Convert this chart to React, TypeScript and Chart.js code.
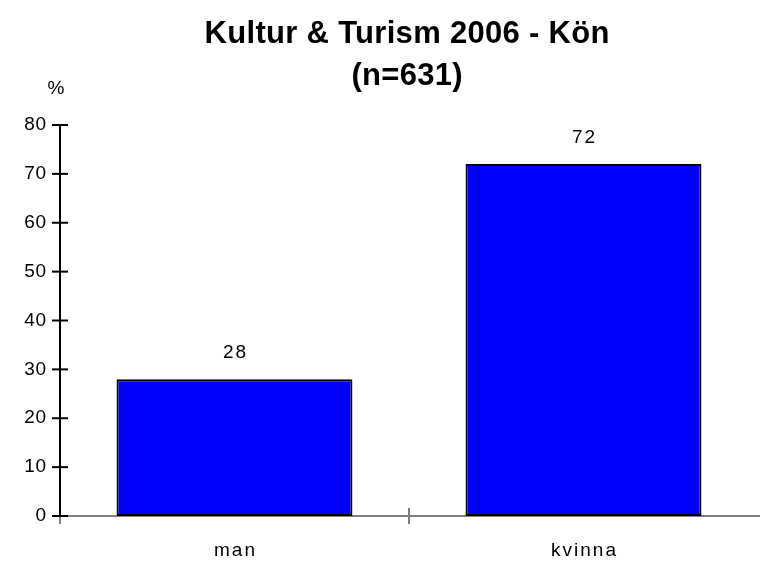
import React, { useEffect, useRef } from "react";
import { Chart, registerables } from "chart.js";

Chart.register(...registerables);

const categories = ["man", "kvinna"];
const values = [28, 72];
const yTicks = [0, 10, 20, 30, 40, 50, 60, 70, 80];
const titleLines = ["Kultur & Turism 2006 - Kön", "(n=631)"];
const yUnit = "%";

const FONT = '"Liberation Sans", Arial, sans-serif';
const TITLE_FONT = `bold 31px ${FONT}`;
const LABEL_FONT = `19px ${FONT}`;

function drawText(
  ctx: CanvasRenderingContext2D,
  text: string,
  x: number,
  y: number,
  font: string,
  spacing: number,
  align: "left" | "center" | "right"
) {
  ctx.save();
  ctx.font = font;
  (ctx as any).letterSpacing = `${spacing}px`;
  ctx.textBaseline = "middle";
  ctx.textAlign = "left";
  const w = ctx.measureText(text).width - spacing;
  const left = align === "center" ? x - w / 2 : align === "right" ? x - w : x;
  ctx.fillStyle = "#000000";
  ctx.fillText(text, left, y);
  ctx.restore();
}

const axesPlugin = {
  id: "customAxes",
  beforeDatasetsDraw(chart: any) {
    const ctx: CanvasRenderingContext2D = chart.ctx;
    const xs = chart.scales.x;
    const ys = chart.scales.y;
    const area = chart.chartArea;
    const y0 = ys.getPixelForValue(0);
    ctx.save();
    // x axis
    ctx.strokeStyle = "#808080";
    ctx.lineWidth = 2;
    ctx.beginPath();
    ctx.moveTo(area.left, y0);
    ctx.lineTo(area.right + 2, y0);
    ctx.stroke();
    // category boundary ticks
    const n = categories.length;
    const step = n > 1 ? xs.getPixelForValue(1) - xs.getPixelForValue(0) : area.right - area.left;
    for (let i = 0; i < n; i++) {
      const bx = xs.getPixelForValue(0) - step / 2 + i * step;
      ctx.beginPath();
      ctx.moveTo(bx, y0 - 8);
      ctx.lineTo(bx, y0 + 8);
      ctx.stroke();
    }
    // y axis
    ctx.strokeStyle = "#000000";
    ctx.lineWidth = 2;
    const yTop = ys.getPixelForValue(yTicks[yTicks.length - 1]);
    ctx.beginPath();
    ctx.moveTo(area.left, yTop);
    ctx.lineTo(area.left, y0);
    ctx.stroke();
    for (const t of yTicks) {
      const py = ys.getPixelForValue(t);
      ctx.beginPath();
      ctx.moveTo(area.left - 8, py);
      ctx.lineTo(area.left + 8, py);
      ctx.stroke();
    }
    ctx.restore();
  },
  afterDraw(chart: any) {
    const ctx: CanvasRenderingContext2D = chart.ctx;
    const xs = chart.scales.x;
    const ys = chart.scales.y;
    const area = chart.chartArea;
    // title
    const tcx = (area.left + area.right) / 2 - 2;
    drawText(ctx, titleLines[0], tcx, 34, TITLE_FONT, 0.3, "center");
    drawText(ctx, titleLines[1], tcx, 76, TITLE_FONT, 0.3, "center");
    // unit
    drawText(ctx, yUnit, area.left - 4, 89, LABEL_FONT, 0, "center");
    // y tick labels
    for (const t of yTicks) {
      drawText(ctx, String(t), area.left - 14, ys.getPixelForValue(t), LABEL_FONT, 0.5, "right");
    }
    // x labels
    categories.forEach((c, i) => {
      drawText(ctx, c, xs.getPixelForValue(i), area.bottom + 35, LABEL_FONT, 2, "center");
    });
    // data labels
    values.forEach((v, i) => {
      drawText(ctx, String(v), xs.getPixelForValue(i), ys.getPixelForValue(v) - 26, LABEL_FONT, 2, "center");
    });
  },
};

export default function App() {
  const ref = useRef<HTMLCanvasElement | null>(null);
  useEffect(() => {
    if (!ref.current) return;
    const chart = new Chart(ref.current, {
      type: "bar",
      data: {
        labels: categories,
        datasets: [
          {
            data: values,
            backgroundColor: "#0000FF",
            borderColor: "#000000",
            borderWidth: 2,
            borderSkipped: false,
            barPercentage: 0.676,
            categoryPercentage: 1,
          },
        ],
      },
      options: {
        animation: false,
        responsive: true,
        maintainAspectRatio: false,
        layout: { padding: { left: 60, right: 2, top: 125, bottom: 46 } },
        plugins: {
          legend: { display: false },
          title: { display: false },
          tooltip: { enabled: false },
        },
        scales: {
          x: { display: false, offset: true },
          y: { display: false, min: 0, max: 80 },
        },
      },
      plugins: [axesPlugin],
    });
    return () => chart.destroy();
  }, []);
  return (
    <div style={{ position: "absolute", left: 0, top: 0, width: 760, height: 562, background: "#fff" }}>
      <canvas ref={ref} />
    </div>
  );
}
